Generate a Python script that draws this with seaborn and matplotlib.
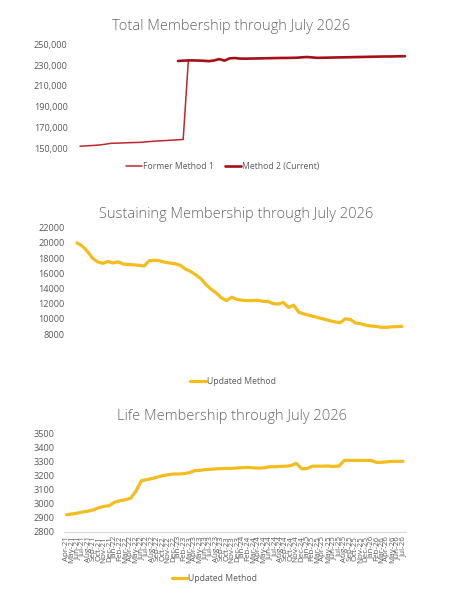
import matplotlib
matplotlib.use("Agg")
import matplotlib.pyplot as plt
import numpy as np
import pandas as pd
import seaborn as sns

sns.set_theme(style="white")
plt.rcParams['font.family'] = ['Open Sans', 'DejaVu Sans']

# monthly categories Apr-21 .. Jul-26
months = list(pd.date_range("2021-04-01", periods=64, freq="MS").strftime("%b-%y"))

# total membership, two methods (former ends at the switch, current starts a bit earlier)
former_months = months[:22]
former_total = [152000, 152300, 152600, 152900, 153300, 154000, 154800, 155000,
                155100, 155300, 155500, 155600, 155800, 156300, 156700, 157000,
                157300, 157600, 157900, 158200, 158500, 234500]
current_months = months[19:]
current_total = [234000, 234300, 234500, 234500, 234400, 234200, 233800, 234500,
                 235800, 234300, 236500, 236800, 236300, 236200, 236300, 236400,
                 236500, 236600, 236700, 236800, 236900, 236900, 237000, 237100,
                 237500, 237800, 237400, 237000, 237100, 237200, 237300, 237400,
                 237500, 237600, 237700, 237800, 237900, 238000, 238100, 238200,
                 238300, 238300, 238400, 238500, 238600]

sustaining = [20000, 19600, 18900, 18000, 17500, 17300, 17550, 17350, 17500, 17200,
              17150, 17100, 17050, 16950, 17650, 17700, 17650, 17450, 17350, 17250,
              17050, 16550, 16250, 15800, 15300, 14500, 13900, 13400, 12750, 12400,
              12850, 12550, 12450, 12400, 12400, 12450, 12300, 12300, 12000, 11950,
              12150, 11500, 11800, 10850, 10650, 10450, 10300, 10100, 9950, 9750,
              9600, 9480, 10000, 9900, 9450, 9350, 9150, 9050, 9000, 8880,
              8880, 8950, 8970, 9000]

life = [2920, 2926, 2932, 2940, 2946, 2955, 2970, 2980, 2985, 3010,
        3020, 3027, 3038, 3090, 3162, 3170, 3178, 3188, 3198, 3205,
        3210, 3210, 3213, 3220, 3234, 3236, 3242, 3244, 3247, 3249,
        3250, 3250, 3253, 3256, 3257, 3254, 3252, 3254, 3262, 3262,
        3264, 3266, 3270, 3286, 3248, 3248, 3266, 3266, 3266, 3267,
        3264, 3266, 3307, 3307, 3307, 3307, 3307, 3307, 3293, 3293,
        3297, 3300, 3300, 3300]

pos = {m: i for i, m in enumerate(months)}
gray = "#595959"
red1 = "#C0272D"
red2 = "#A50F15"
gold = "#F4BC1C"
title_kw = dict(color="#666666", fontsize=10.5, fontweight="light",
                ha="center", va="center")
leg_kw = dict(frameon=False, fontsize=6.2, labelcolor=gray, handlelength=1.8,
              handletextpad=0.1)

fig = plt.figure(figsize=(4.63, 5.99), dpi=100)

# ---- Total
ax1 = fig.add_axes([0.1672, 0.7524, 0.7132, 0.1736])
df_f = pd.DataFrame({"x": [pos[m] for m in former_months], "y": former_total})
df_c = pd.DataFrame({"x": [pos[m] for m in current_months], "y": current_total})
sns.lineplot(data=df_f, x="x", y="y", ax=ax1, color=red1, lw=1.1, label="Former Method 1")
sns.lineplot(data=df_c, x="x", y="y", ax=ax1, color=red2, lw=1.9, label="Method 2 (Current)")
ax1.set_ylim(150000, 250000)
ax1.set_yticks(np.arange(150000, 250001, 20000))
ax1.set_yticklabels([f"{v:,}" for v in range(150000, 250001, 20000)])
ax1.set_xticks([])
fig.text(231.5 / 463, 1 - 26.5 / 599, "Total Membership through July 2026", **title_kw)
ax1.legend(loc="center", bbox_to_anchor=(0.44, -0.175), ncol=2, columnspacing=1.4,
           **leg_kw)

# ---- Sustaining
ax2 = fig.add_axes([0.1607, 0.4424, 0.7132, 0.1775])
df_s = pd.DataFrame({"x": range(len(months)), "y": sustaining})
sns.lineplot(data=df_s, x="x", y="y", ax=ax2, color=gold, lw=2.3, label="Updated Method")
ax2.set_ylim(8000, 22000)
ax2.set_yticks(np.arange(8000, 22001, 2000))
ax2.set_xticks([])
fig.text(236.5 / 463, 1 - 215 / 599, "Sustaining Membership through July 2026", **title_kw)
ax2.legend(loc="center", bbox_to_anchor=(0.48, -0.45), **leg_kw)

# ---- Life
ax3 = fig.add_axes([0.1382, 0.1124, 0.738, 0.1643])
df_l = pd.DataFrame({"x": range(len(months)), "y": life})
sns.lineplot(data=df_l, x="x", y="y", ax=ax3, color=gold, lw=2.3, label="Updated Method")
ax3.set_ylim(2800, 3500)
ax3.set_yticks(np.arange(2800, 3501, 100))
ax3.set_xticks(range(len(months)))
ax3.set_xticklabels(months, rotation=90, fontsize=5.8, color=gray)
fig.text(232 / 463, 1 - 416 / 599, "Life Membership through July 2026", **title_kw)
ax3.legend(loc="center", bbox_to_anchor=(0.44, -0.475), **leg_kw)

for ax in (ax1, ax2, ax3):
    ax.set_xlim(-0.5, len(months) - 0.5)
    ax.set_xlabel("")
    ax.set_ylabel("")
    sns.despine(ax=ax, left=True, bottom=True)
    ax.tick_params(axis="y", labelsize=6.6, colors=gray, length=0, pad=7)
    ax.tick_params(axis="x", length=0, pad=3)
    ax.grid(False)

ax3.spines["bottom"].set_visible(True)
ax3.spines["bottom"].set_color("#D9D9D9")
ax3.spines["bottom"].set_linewidth(0.8)

fig.savefig("out.png", dpi=100)
